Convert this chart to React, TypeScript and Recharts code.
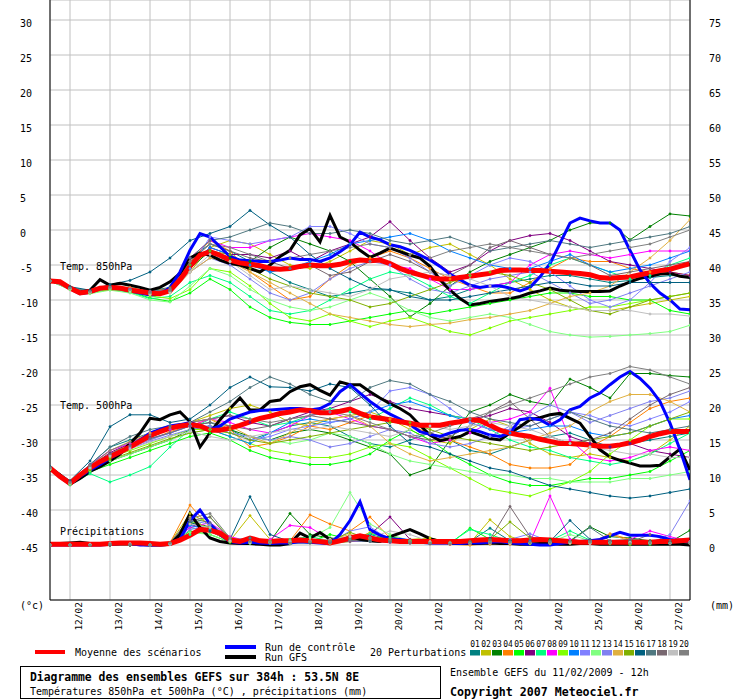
import React from "react";
import { LineChart, Line, XAxis, YAxis, CartesianGrid } from "recharts";

// ---- axes / labels ----
const dayTicks = [12, 36, 60, 84, 108, 132, 156, 180, 204, 228, 252, 276, 300, 324, 348, 372];
const dayLabels = ["12/02", "13/02", "14/02", "15/02", "16/02", "17/02", "18/02", "19/02", "20/02", "21/02", "22/02", "23/02", "24/02", "25/02", "26/02", "27/02"];
const tempTicks = [30, 25, 20, 15, 10, 5, 0, -5, -10, -15, -20, -25, -30, -35, -40, -45];
const precipTicks = [75, 70, 65, 60, 55, 50, 45, 40, 35, 30, 25, 20, 15, 10, 5, 0];
const perturbationNames = ["01", "02", "03", "04", "05", "06", "07", "08", "09", "10", "11", "12", "13", "14", "15", "16", "17", "18", "19", "20"];
const perturbationColors = ["#008080", "#c0c000", "#008000", "#ff8000", "#00ff00", "#800080", "#00ff80", "#ff00ff", "#80ff00", "#0080ff", "#8080ff", "#80ff80", "#8080f0", "#e0b040", "#80b000", "#006080", "#507880", "#786870", "#c0c0c0", "#808080"];

// ---- 6-hourly series (65 points, 0..384h) ----
const meanT850 = [-7.3,-7.4,-8.3,-9.0,-8.8,-8.3,-8.2,-8.3,-8.6,-8.8,-9.0,-9.1,-8.7,-7.1,-5.2,-3.6,-3.1,-3.6,-4.3,-4.7,-4.9,-5.1,-5.5,-5.6,-5.5,-5.2,-5.0,-5.1,-5.1,-4.9,-4.5,-4.3,-4.4,-4.3,-4.8,-5.5,-6.0,-6.4,-6.8,-7.0,-7.0,-6.8,-6.6,-6.4,-6.2,-5.8,-5.7,-5.7,-5.8,-5.8,-5.9,-6.0,-6.1,-6.2,-6.4,-6.8,-6.9,-6.8,-6.7,-6.4,-6.1,-5.8,-5.6,-5.2,-4.8];
const controlT850 = [-7.3,-7.5,-8.4,-9.1,-8.9,-8.4,-8.3,-8.4,-8.7,-9.0,-9.3,-9.2,-8.2,-6.0,-2.9,-0.5,-1.0,-2.4,-3.8,-4.3,-4.4,-4.5,-4.5,-4.3,-4.0,-4.2,-4.2,-4.5,-4.0,-3.1,-2.1,-0.3,-1.0,-1.4,-2.1,-2.4,-2.9,-3.6,-4.3,-5.2,-6.3,-7.1,-7.9,-8.2,-8.0,-8.0,-8.3,-8.7,-8.2,-6.7,-4.8,-1.9,1.0,1.7,1.3,1.0,1.0,0.0,-2.9,-5.7,-7.6,-9.0,-10.0,-11.3,-11.4];
const gfsT850 = [-7.3,-7.4,-8.2,-8.9,-8.6,-7.1,-7.9,-7.6,-7.9,-8.2,-8.6,-8.2,-7.4,-6.2,-4.0,-3.3,-3.6,-4.3,-4.8,-5.0,-5.5,-6.0,-5.0,-3.8,-2.9,-0.7,0.2,-1.7,2.1,-1.0,-1.7,-2.9,-3.9,-3.3,-2.6,-3.1,-3.6,-4.0,-5.2,-7.1,-8.6,-9.8,-10.7,-10.5,-10.2,-10.0,-9.8,-9.5,-9.0,-8.7,-8.3,-8.6,-8.7,-8.8,-8.8,-8.8,-8.7,-8.0,-7.4,-6.9,-6.6,-6.3,-6.2,-6.6,-6.8];
const meanT500 = [-34.0,-35.2,-36.2,-35.0,-34.0,-33.1,-32.4,-31.7,-31.0,-30.2,-29.4,-28.8,-28.3,-28.0,-27.8,-28.0,-28.6,-28.6,-28.3,-27.9,-27.4,-26.9,-26.6,-26.2,-26.0,-25.7,-25.8,-26.1,-26.1,-25.9,-25.6,-26.2,-26.7,-26.9,-27.1,-27.4,-27.6,-27.9,-27.9,-27.9,-27.6,-27.4,-27.1,-27.2,-27.9,-28.6,-29.0,-29.3,-29.5,-29.9,-30.2,-30.5,-30.5,-30.6,-30.7,-30.9,-30.9,-30.7,-30.4,-30.0,-29.5,-29.1,-28.8,-28.8,-28.8];
const controlT500 = [-34.0,-35.3,-36.3,-35.2,-34.3,-33.5,-32.6,-31.8,-31.0,-30.0,-29.0,-28.5,-28.0,-27.8,-27.5,-28.0,-28.5,-28.0,-27.0,-26.5,-26.0,-25.8,-25.7,-25.6,-25.5,-25.5,-25.7,-25.5,-24.8,-23.1,-22.1,-23.3,-24.5,-25.5,-26.3,-27.0,-27.8,-28.8,-29.2,-29.5,-29.0,-28.6,-28.5,-28.8,-29.3,-29.5,-29.0,-27.1,-26.9,-27.1,-27.9,-27.1,-25.7,-25.2,-24.0,-23.3,-22.1,-21.0,-20.2,-21.2,-22.6,-24.5,-27.6,-31.4,-35.7];
const gfsT500 = [-34.0,-35.0,-36.3,-35.5,-34.5,-33.8,-33.0,-32.0,-30.5,-29.0,-26.9,-27.1,-26.4,-26.0,-27.4,-31.0,-29.0,-27.1,-25.5,-24.0,-25.7,-25.7,-24.5,-24.3,-23.1,-22.4,-22.1,-22.9,-23.6,-21.7,-22.1,-22.1,-23.1,-24.0,-24.8,-25.5,-26.4,-27.9,-29.3,-30.1,-29.8,-29.5,-28.8,-29.3,-29.8,-30.0,-29.0,-28.1,-27.1,-26.8,-26.4,-26.2,-26.9,-27.6,-29.5,-31.4,-32.4,-32.9,-33.3,-33.7,-33.7,-33.6,-32.4,-31.3,-34.3];
const meanPrecip = [0.1,0.1,0.1,0.1,0.1,0.1,0.2,0.3,0.3,0.3,0.2,0.1,0.2,0.7,1.4,2.2,2.1,1.7,0.7,0.5,1.0,0.6,0.5,0.6,0.6,0.7,0.6,0.5,0.3,0.6,1.0,1.3,1.0,0.7,0.6,0.5,0.5,0.5,0.5,0.5,0.5,0.5,0.6,0.7,0.8,0.7,0.6,0.6,0.7,0.8,0.7,0.6,0.5,0.4,0.4,0.4,0.4,0.4,0.4,0.4,0.4,0.5,0.5,0.6,0.7];
const controlPrecip = [0,0,0,0,0,0,0.1,0.2,0.2,0,0,0,0.1,0.8,3.5,5.0,3.0,1.5,0.5,0.3,0.4,0.3,0.2,0.3,0.3,0.5,0.4,0.3,0.2,1.5,3.5,6.2,2.2,1.4,0.9,0.8,0.6,0.4,0.3,0.3,0.3,0.2,0.3,0.3,0.4,0.5,0.3,0.2,0.1,0.0,0.0,0.2,0.4,0.5,0.6,0.8,1.3,1.8,1.4,1.4,1.4,1.2,0.8,0.6,0.5];
const gfsPrecip = [0.1,0.2,0.3,0.4,0.2,0.1,0.1,0.2,0.2,0.1,0,0,0.1,1.5,4.5,2.5,1.0,0.5,0.3,0.2,0.2,0.1,0,0,0.2,1.7,1.0,1.8,0.8,0.5,1.2,0.8,0.6,0.5,1.2,1.7,2.2,1.6,0.9,0.5,0.3,0.2,0.2,0.2,0.3,0.2,0.2,0.1,0.1,0.2,0.2,0.1,0.1,0.2,0.2,0.1,0.1,0.1,0.1,0.1,0.1,0.1,0.1,0.1,0.0];

// ---- 12-hourly perturbations (33 points, 0..384h) ----
const perturbationT850 = [
  [-7.3,-8.2,-8.7,-8.0,-8.4,-8.7,-8.2,-4.0,-2.0,-3.0,-4.5,-6.0,-7.5,-8.5,-9.5,-9.0,-8.5,-8.6,-9.0,-10.0,-9.5,-8.5,-8.0,-7.5,-7.0,-6.5,-6.5,-7.0,-7.5,-7.2,-6.8,-6.5,-6.6],
  [-7.3,-8.4,-8.9,-8.3,-8.6,-9.2,-9.0,-6.0,-2.5,-1.5,-2.0,-3.5,-5.0,-5.5,-4.5,-3.0,-1.5,-2.0,-3.5,-2.5,-2.0,-3.5,-5.0,-7.0,-8.5,-10.0,-11.0,-11.5,-11.5,-11.0,-10.5,-10.0,-9.5],
  [-7.3,-8.3,-8.8,-8.2,-8.5,-9.0,-8.8,-5.5,-3.0,-4.0,-4.5,-2.5,-1.0,-2.0,-3.0,-4.5,-7.0,-9.5,-12.4,-10.5,-8.0,-6.0,-4.5,-3.5,-2.5,-1.5,0.0,1.0,1.0,-1.4,0.5,2.3,2.0],
  [-7.3,-8.2,-8.8,-8.1,-8.2,-8.8,-8.3,-4.5,-1.5,-3.0,-6.0,-8.0,-10.0,-9.5,-7.0,-5.0,-4.0,-3.0,-4.0,-5.5,-7.0,-8.0,-9.0,-9.0,-7.5,-5.5,-4.0,-4.5,-4.5,-5.5,-6.0,-6.0,-6.5],
  [-7.3,-8.4,-9.0,-8.4,-8.8,-9.7,-10.2,-9.0,-7.0,-8.5,-11.0,-12.5,-13.2,-13.5,-13.5,-13.0,-12.5,-12.0,-11.5,-12.0,-11.5,-11.0,-10.5,-10.0,-9.5,-9.0,-9.0,-9.5,-9.5,-10.0,-10.0,-11.5,-12.0],
  [-7.3,-8.3,-8.9,-8.3,-8.5,-8.9,-8.7,-5.0,-2.5,-3.5,-3.5,-4.0,-3.0,-4.5,-3.0,-2.0,-1.0,1.2,-1.5,-4.0,-6.0,-5.0,-3.0,-1.5,-0.8,-0.5,-1.5,-3.0,-4.5,-5.0,-5.5,-6.0,-6.5],
  [-7.3,-8.5,-9.0,-8.5,-8.9,-9.8,-9.5,-7.5,-6.5,-7.5,-9.5,-11.5,-12.0,-11.5,-10.0,-8.5,-7.0,-6.0,-6.5,-8.0,-9.5,-10.5,-9.0,-7.5,-6.5,-5.0,-4.0,-5.0,-6.0,-7.0,-6.5,-5.0,-4.0],
  [-7.3,-8.3,-8.8,-8.2,-8.4,-8.8,-8.5,-4.0,-1.5,-2.5,-2.5,-1.5,-1.0,-0.5,-1.0,-1.5,-3.0,-5.0,-5.5,-7.0,-8.5,-8.5,-8.0,-7.5,-5.0,-3.5,-3.0,-3.5,-4.0,-3.5,-3.0,-3.0,-3.0],
  [-7.3,-8.4,-9.0,-8.5,-8.7,-9.4,-9.8,-8.5,-5.5,-6.0,-8.0,-10.5,-12.5,-13.0,-12.0,-13.0,-13.8,-13.0,-12.5,-13.5,-14.5,-15.0,-14.0,-13.0,-12.5,-12.0,-11.5,-11.0,-11.0,-10.5,-10.0,-9.5,-9.0],
  [-7.3,-8.2,-8.8,-8.2,-8.5,-9.0,-8.8,-5.0,-2.5,-3.5,-5.0,-6.0,-5.5,-4.5,-3.5,-2.0,-1.5,-1.0,-0.5,-1.5,-3.0,-4.0,-5.0,-5.5,-5.5,-4.5,-3.5,-5.0,-6.0,-5.5,-5.0,-4.0,-3.0],
  [-7.3,-8.3,-8.9,-8.2,-8.6,-9.1,-8.8,-5.5,-1.0,-1.5,-2.0,-1.5,-1.0,0.5,0.5,-0.5,-2.0,-2.5,-4.0,-6.0,-8.0,-6.5,-5.0,-4.0,-4.5,-6.0,-8.0,-10.0,-11.0,-10.0,-7.5,-4.5,-2.5],
  [-7.3,-8.5,-9.1,-8.6,-9.0,-10.0,-10.3,-8.0,-5.5,-6.5,-8.5,-10.0,-11.0,-11.5,-11.0,-10.0,-9.0,-10.0,-11.5,-12.5,-13.0,-12.5,-12.0,-12.5,-13.5,-14.5,-15.0,-15.3,-15.2,-15.0,-14.8,-14.5,-13.6],
  [-7.3,-8.3,-8.8,-8.3,-8.5,-9.0,-8.7,-6.0,-4.0,-5.0,-7.0,-9.0,-10.0,-9.0,-7.0,-5.5,-4.5,-5.0,-7.0,-8.5,-9.0,-8.0,-7.0,-6.5,-6.0,-7.5,-9.0,-10.5,-10.0,-9.0,-8.0,-7.0,-6.0],
  [-7.3,-8.4,-8.9,-8.3,-8.6,-9.1,-8.9,-6.0,-4.0,-4.5,-6.0,-7.5,-9.0,-10.5,-12.0,-12.5,-13.0,-13.5,-13.8,-13.5,-13.3,-12.8,-12.5,-12.0,-11.5,-10.5,-9.5,-9.0,-8.0,-6.0,-4.0,-1.5,1.5],
  [-7.3,-8.3,-8.8,-8.2,-8.6,-9.0,-8.6,-5.0,-3.0,-3.5,-5.5,-7.0,-8.0,-9.0,-9.5,-10.0,-11.0,-10.5,-9.5,-8.5,-7.5,-6.5,-6.0,-6.5,-7.5,-8.5,-10.0,-11.5,-12.0,-11.0,-10.0,-9.5,-9.0],
  [-7.3,-8.1,-8.6,-7.8,-7.2,-6.0,-4.0,-1.5,-0.5,0.5,2.8,0.7,-1.0,-3.5,-5.5,-7.0,-8.3,-8.5,-9.5,-10.0,-10.0,-9.5,-9.0,-8.5,-8.0,-7.5,-7.5,-8.0,-8.0,-7.5,-7.5,-7.5,-7.5],
  [-7.3,-8.3,-8.8,-8.2,-8.5,-8.8,-8.4,-4.0,-1.5,-1.0,0.0,1.0,0.5,-0.5,-0.5,0.0,-0.5,-1.5,-2.0,-1.5,-1.0,-2.0,-3.0,-2.5,-2.0,-1.5,-2.0,-2.5,-2.0,-1.5,-1.0,-0.5,0.5],
  [-7.3,-8.3,-8.9,-8.3,-8.6,-9.0,-8.6,-4.5,-2.0,-3.0,-4.0,-4.5,-5.5,-5.0,-6.5,-6.0,-4.5,-3.5,-4.5,-6.0,-6.5,-5.0,-2.5,-1.5,-2.5,-3.5,-4.0,-5.0,-6.5,-6.0,-5.5,-5.0,-4.5],
  [-7.3,-8.4,-8.9,-8.3,-8.7,-9.2,-9.0,-6.0,-3.5,-4.5,-6.5,-8.5,-8.0,-8.5,-9.0,-9.5,-8.5,-7.0,-6.5,-6.0,-6.5,-7.0,-8.0,-9.5,-10.0,-10.5,-11.0,-11.5,-11.5,-11.5,-12.0,-12.0,-12.3],
  [-7.3,-8.3,-8.8,-8.2,-8.5,-8.9,-8.5,-4.5,-2.0,-2.5,-3.5,-4.5,-4.0,-3.5,-3.0,-2.5,-2.0,-2.5,-3.5,-4.0,-3.0,-2.5,-2.0,-2.5,-3.0,-3.5,-4.0,-3.5,-3.0,-2.5,-2.0,-1.0,0.0],
];
const perturbationT500 = [
  [-34.0,-36.0,-33.5,-31.0,-30.0,-29.0,-28.5,-28.0,-27.5,-28.5,-30.0,-29.0,-28.0,-27.5,-28.0,-29.5,-30.5,-31.0,-30.0,-29.0,-30.0,-31.5,-32.0,-31.0,-30.0,-29.5,-29.0,-30.0,-31.0,-30.5,-30.0,-29.5,-29.0],
  [-34.2,-36.3,-34.0,-32.0,-30.5,-29.5,-28.5,-27.5,-26.5,-25.5,-25.0,-26.0,-27.5,-28.0,-27.0,-26.5,-26.0,-27.0,-28.5,-30.0,-30.5,-28.5,-27.0,-28.0,-30.5,-32.0,-32.5,-32.0,-32.5,-33.0,-32.0,-30.0,-28.0],
  [-34.0,-36.2,-34.5,-33.0,-32.0,-31.0,-30.0,-28.5,-28.0,-28.5,-29.5,-30.0,-29.0,-28.5,-29.0,-30.0,-31.0,-32.0,-35.0,-34.0,-30.0,-26.0,-25.0,-23.5,-24.5,-25.0,-21.3,-22.5,-24.0,-20.5,-20.5,-20.8,-21.0],
  [-34.0,-36.0,-33.8,-32.0,-31.0,-30.0,-28.8,-28.0,-27.0,-28.5,-31.0,-30.5,-29.5,-28.0,-28.5,-27.5,-26.5,-27.0,-28.0,-29.0,-30.0,-31.0,-32.0,-33.5,-34.0,-34.0,-33.5,-31.0,-29.5,-27.5,-25.5,-24.5,-24.0],
  [-34.1,-36.3,-34.5,-33.5,-32.5,-31.5,-30.5,-29.5,-29.0,-30.0,-31.5,-32.5,-33.0,-33.5,-33.5,-33.0,-32.0,-30.0,-28.5,-30.0,-32.0,-33.5,-35.0,-36.0,-36.5,-36.5,-36.0,-35.5,-35.5,-35.0,-34.5,-33.0,-31.5],
  [-34.0,-36.1,-33.8,-31.8,-30.5,-29.5,-28.5,-27.5,-27.0,-26.5,-27.5,-28.0,-27.0,-26.0,-25.5,-24.5,-23.5,-24.5,-25.5,-26.0,-26.5,-27.0,-26.5,-25.5,-26.0,-27.5,-29.5,-30.5,-31.0,-30.5,-31.5,-32.0,-32.5],
  [-34.2,-36.4,-34.8,-36.0,-35.0,-33.8,-31.0,-28.5,-27.0,-26.0,-27.0,-28.0,-27.5,-26.5,-25.5,-26.0,-27.0,-25.5,-24.0,-25.0,-26.5,-27.0,-28.5,-30.0,-31.0,-31.5,-32.5,-33.0,-33.5,-33.0,-32.0,-30.5,-29.0],
  [-34.0,-36.0,-33.5,-31.5,-30.5,-29.0,-28.5,-28.0,-27.0,-27.5,-28.5,-29.0,-28.0,-26.5,-26.0,-27.0,-28.0,-28.5,-29.5,-30.5,-30.0,-29.0,-27.5,-27.0,-26.0,-22.6,-30.0,-32.5,-33.0,-32.5,-31.5,-31.0,-31.5],
  [-34.1,-36.2,-34.2,-32.5,-31.5,-30.5,-29.5,-28.5,-28.5,-29.5,-30.5,-31.5,-32.0,-32.5,-32.5,-32.0,-31.0,-30.5,-31.0,-32.5,-34.0,-35.5,-37.0,-37.5,-38.0,-37.0,-36.0,-34.5,-32.0,-30.0,-28.0,-27.0,-27.0],
  [-34.0,-36.1,-34.0,-32.0,-30.8,-29.8,-29.0,-28.0,-28.5,-29.5,-30.5,-29.0,-27.5,-27.0,-27.5,-27.0,-26.0,-25.0,-24.5,-25.5,-26.5,-27.5,-28.5,-29.0,-28.5,-28.0,-28.0,-29.0,-29.5,-29.0,-28.0,-27.0,-26.5],
  [-34.0,-36.2,-34.0,-32.2,-31.0,-30.0,-29.0,-28.0,-28.0,-29.0,-30.0,-29.5,-28.5,-28.0,-27.5,-27.0,-26.0,-23.0,-22.5,-23.5,-25.5,-27.5,-28.5,-28.5,-28.0,-27.0,-26.0,-26.5,-27.5,-28.0,-27.0,-26.0,-24.5],
  [-34.2,-36.3,-34.4,-33.0,-32.0,-31.0,-30.0,-29.0,-28.5,-29.0,-29.5,-30.0,-30.5,-30.0,-29.0,-29.5,-30.5,-32.0,-33.0,-33.5,-34.0,-34.5,-35.0,-35.0,-35.5,-35.5,-36.0,-36.0,-36.0,-35.5,-35.5,-35.0,-34.5],
  [-34.0,-36.1,-34.0,-32.3,-31.2,-30.2,-29.3,-28.5,-28.0,-29.0,-29.5,-30.0,-29.5,-30.0,-31.0,-30.5,-29.5,-28.5,-29.0,-30.5,-31.0,-30.5,-29.5,-28.0,-26.5,-25.0,-26.0,-27.5,-26.5,-25.5,-24.5,-24.0,-23.0],
  [-34.1,-36.2,-33.8,-31.5,-30.2,-29.0,-28.0,-27.5,-27.0,-28.0,-29.5,-30.5,-29.0,-27.5,-27.0,-26.5,-28.0,-30.5,-32.0,-33.0,-32.5,-32.0,-31.5,-31.0,-30.0,-29.0,-28.0,-26.0,-24.5,-23.5,-23.5,-24.5,-26.0],
  [-34.0,-36.2,-34.3,-32.8,-31.8,-30.8,-29.8,-29.0,-28.5,-29.0,-30.0,-30.5,-30.0,-29.5,-29.0,-28.5,-28.0,-27.5,-27.5,-28.5,-29.5,-30.0,-30.5,-31.0,-31.5,-31.0,-30.5,-30.0,-29.5,-29.0,-28.0,-27.0,-26.0],
  [-33.8,-35.8,-33.0,-28.1,-26.4,-26.4,-27.5,-27.0,-25.0,-22.5,-21.0,-22.4,-22.5,-23.0,-22.0,-22.5,-25.0,-28.0,-30.5,-31.0,-32.0,-33.0,-34.0,-34.5,-35.5,-36.5,-37.0,-37.5,-38.0,-38.3,-38.0,-37.5,-37.0],
  [-34.0,-36.0,-33.5,-31.0,-29.5,-28.5,-28.0,-27.5,-26.0,-24.5,-22.5,-21.0,-22.0,-23.5,-24.5,-24.5,-22.5,-21.5,-22.0,-23.5,-24.5,-26.0,-27.0,-27.5,-28.0,-27.0,-26.0,-27.0,-28.0,-28.5,-29.0,-28.5,-28.0],
  [-34.0,-36.1,-33.9,-32.0,-30.8,-29.8,-29.0,-28.0,-27.5,-28.0,-28.5,-28.0,-27.0,-26.5,-27.0,-27.5,-28.0,-28.5,-29.5,-30.0,-29.5,-28.0,-26.0,-24.5,-27.0,-29.5,-30.5,-30.0,-29.0,-27.0,-25.0,-23.5,-22.5],
  [-34.1,-36.2,-34.0,-32.3,-31.3,-30.3,-29.5,-28.8,-29.5,-30.0,-29.5,-29.0,-28.5,-28.5,-28.0,-28.5,-29.0,-29.5,-28.5,-28.0,-28.5,-28.0,-27.5,-28.0,-28.5,-29.5,-30.5,-31.0,-31.5,-32.0,-32.0,-32.5,-32.5],
  [-34.0,-36.1,-33.6,-31.5,-30.3,-29.3,-28.3,-27.5,-27.0,-26.5,-27.0,-27.5,-27.0,-26.5,-26.0,-26.5,-27.5,-28.5,-29.5,-29.0,-28.0,-27.0,-26.0,-25.0,-24.0,-23.0,-22.0,-21.0,-20.5,-19.5,-20.0,-21.0,-22.0],
];
const perturbationPrecip = [
  [0,0,0,0.1,0,0,0.2,2.5,2.0,0.5,1.0,0.3,0.2,0.3,0.5,0.8,1.5,0.8,0.4,0.3,0.2,0.5,2.4,0.6,0.4,0.5,0.8,0.4,0.3,0.5,0.3,0.4,0.3],
  [0,0,0,0,0,0,0.3,4.5,3.0,0.6,4.2,0.8,0.5,0.3,0.2,0.5,1.8,0.6,0.8,1.0,0.4,0.3,3.6,1.2,0.4,0.3,0.2,0.3,0.2,0.1,0.2,0.3,0.5],
  [0,0,0,0,0,0,0.2,3.5,2.5,0.4,0.3,0.5,4.5,1.5,1.0,0.8,0.5,0.8,0.6,0.3,0.2,0.5,0.8,0.6,0.4,0.8,0.6,2.6,1.2,1.0,0.6,0.4,2.1],
  [0,0,0,0,0,0,0.3,5.7,2.5,0.5,0.3,0.4,0.6,4.3,3.0,2.0,4.0,1.0,0.5,0.2,0.1,0.0,0.2,0.1,0.3,0.2,0.4,0.3,1.6,0.8,0.5,0.3,0.3],
  [0,0,0,0,0,0,0.1,2.0,1.5,0.4,0.2,0.3,0.2,0.5,1.5,0.8,1.0,1.2,0.6,0.4,0.2,2.4,0.8,0.3,0.2,0.3,0.5,0.4,0.2,0.1,0.1,0.2,0.3],
  [0,0,0,0,0,0,0.2,3.0,2.0,0.5,0.3,0.4,0.3,0.5,0.8,1.0,1.5,4.0,0.8,0.2,0.1,0.1,0.2,0.3,0.2,0.4,0.3,0.2,0.3,0.2,0.3,0.2,0.2],
  [0,0,0,0,0,0,0.1,1.5,2.5,0.8,0.4,0.6,0.8,1.2,0.6,0.5,1.6,1.0,0.4,0.2,0.3,2.2,1.5,0.5,0.3,0.6,2.0,0.7,0.5,0.4,0.3,0.3,0.3],
  [0,0,0,0,0,0,0.2,2.5,3.2,1.2,0.5,0.8,2.8,2.5,0.8,0.5,0.6,0.4,0.3,0.2,0.1,0.2,0.3,0.5,0.4,7.0,0.8,0.4,0.3,0.8,2.0,1.2,0.5],
  [0,0,0,0,0,0,0.1,3.0,4.0,1.0,0.5,0.3,0.2,0.4,0.6,1.0,0.8,0.5,0.3,0.2,0.2,0.3,0.4,0.3,0.2,0.2,0.3,0.4,0.3,0.2,0.2,0.3,0.4],
  [0,0,0,0,0,0,0.2,2.8,2.2,0.5,0.3,0.4,0.5,0.4,0.5,1.2,1.0,0.6,0.4,0.3,0.2,0.3,0.5,0.4,0.6,0.4,0.3,0.5,0.4,0.3,0.2,0.2,0.3],
  [0,0,0,0,0,0,0.1,3.5,3.0,0.6,0.3,0.5,0.4,0.5,0.3,2.0,2.6,0.7,0.4,0.3,0.2,0.4,0.6,0.8,1.6,0.5,0.4,0.3,0.5,0.4,0.3,0.3,0.4],
  [0,0,0,0,0,0,0.1,1.8,1.5,0.5,0.4,0.3,0.5,1.0,2.5,7.5,3.0,1.5,0.6,0.3,0.2,0.3,0.5,0.4,0.3,0.4,1.5,0.6,0.4,0.3,0.3,0.3,0.4],
  [0,0,0,0,0,0,0.1,2.2,2.8,0.7,0.4,0.3,0.2,0.3,0.4,0.6,0.5,0.4,0.3,0.2,0.3,0.4,0.3,0.5,0.4,0.3,0.4,0.5,0.6,0.4,0.3,1.5,6.3],
  [0,0,0,0,0,0,0.2,4.0,2.0,0.5,0.3,0.4,0.6,0.5,0.8,1.5,0.6,0.5,0.3,0.2,0.1,0.0,0.1,0.2,0.3,0.2,0.3,0.2,1.5,0.6,0.4,0.3,0.2],
  [0,0,0,0,0,0,0.2,3.2,2.5,0.6,0.4,0.5,0.3,0.4,0.6,1.8,0.8,0.6,0.4,0.3,0.2,0.5,0.8,3.3,1.0,0.5,0.4,0.3,0.5,0.4,0.3,0.2,0.3],
  [0,0,0,0,0,0,0.3,3.3,2.0,0.8,6.9,1.5,0.5,0.3,0.4,0.8,0.6,0.5,0.3,0.2,0.3,0.4,1.0,0.6,0.4,0.5,3.5,0.8,0.5,0.6,0.5,0.4,0.3],
  [0,0,0,0,0,0,0.2,3.8,3.2,0.7,1.0,0.4,0.3,0.5,0.4,0.6,0.5,0.4,0.3,0.3,0.2,0.3,0.4,0.5,0.4,0.3,0.5,2.5,0.6,0.8,0.5,0.3,0.3],
  [0,0,0,0,0,0,0.2,3.5,4.0,0.8,0.4,0.3,0.5,0.4,0.3,0.5,1.0,0.6,0.3,0.2,0.3,0.5,0.8,5.5,1.2,0.5,0.4,0.6,0.5,0.4,1.5,0.6,0.4],
  [0,0,0.1,0.3,0.2,0,0.2,3.0,2.5,0.6,0.3,0.4,0.5,0.6,0.8,1.2,1.0,2.0,1.5,0.5,0.3,0.2,0.3,0.2,0.3,0.4,0.3,0.2,0.3,0.4,0.3,0.2,0.3],
  [0,0,0,0.2,0.1,0,0.3,3.8,4.5,1.0,0.5,0.4,0.3,0.5,0.6,0.8,1.0,0.8,0.5,0.3,0.2,0.2,0.3,0.4,0.3,0.4,0.5,0.4,0.3,0.2,0.3,0.2,0.2],
];

const toRows = (vals: number[], step: number) => vals.map((v, i) => ({ h: i * step, v }));

const FONT = "'DejaVu Sans Mono', monospace";
const TEMP_TOP = 230 / 7;
const TEMP_BOTTOM = -370 / 7;

const LeftTick = (props: any) => (
  <text x={20} y={props.y + 6.5} fontFamily={FONT} fontSize={10} fill="#000" textAnchor="start">
    {props.payload.value}
  </text>
);
const RightTick = (props: any) => (
  <text x={709} y={props.y + 6.5} fontFamily={FONT} fontSize={10} fill="#000" textAnchor="start">
    {props.payload.value}
  </text>
);
const DateTick = (props: any) => {
  const idx = dayTicks.indexOf(props.payload.value);
  return (
    <text
      transform={`translate(${props.x + 11.5},602) rotate(-90)`}
      fontFamily={FONT}
      fontSize={9.5}
      fill="#000"
      textAnchor="end"
    >
      {dayLabels[idx]}
    </text>
  );
};

export default function App() {
  const pertLines: any[] = [];
  const groups: [number[][], string | undefined][] = [
    [perturbationT850, undefined],
    [perturbationT500, undefined],
    [perturbationPrecip, "p"],
  ];
  groups.forEach(([set, axis], g) => {
    set.forEach((vals, k) => {
      const c = perturbationColors[k];
      pertLines.push(
        <Line
          key={`p${g}-${k}`}
          data={toRows(vals, 12)}
          dataKey="v"
          yAxisId={axis ?? 0}
          type="linear"
          stroke={c}
          strokeWidth={1}
          dot={{ r: 1.2, fill: c, stroke: c, strokeWidth: 0.4 }}
          activeDot={false}
          isAnimationActive={false}
        />
      );
    });
  });
  const main: [number[], string, number, string | number][] = [
    [gfsT850, "#000000", 3, 0],
    [gfsT500, "#000000", 3, 0],
    [gfsPrecip, "#000000", 3, "p"],
    [controlT850, "#0000ff", 3, 0],
    [controlT500, "#0000ff", 3, 0],
    [controlPrecip, "#0000ff", 3, "p"],
    [meanT850, "#ff0000", 5, 0],
    [meanT500, "#ff0000", 5, 0],
    [meanPrecip, "#ff0000", 5, "p"],
  ];

  return (
    <div style={{ position: "absolute", left: 0, top: 0, width: 740, height: 700, background: "#fff" }}>
      <LineChart width={740} height={700} margin={{ top: 0, right: 0, bottom: 0, left: 0 }}>
        <CartesianGrid stroke="#c0c0c0" strokeWidth={1} />
        <XAxis
          dataKey="h"
          type="number"
          domain={[0, 384]}
          ticks={dayTicks}
          interval={0}
          height={100}
          axisLine={{ stroke: "#000", strokeWidth: 1 }}
          tickLine={false}
          tick={<DateTick />}
          allowDataOverflow
        />
        <YAxis
          type="number"
          domain={[TEMP_BOTTOM, TEMP_TOP]}
          ticks={tempTicks}
          interval={0}
          width={50}
          axisLine={{ stroke: "#000", strokeWidth: 1 }}
          tickLine={false}
          tick={<LeftTick />}
          allowDataOverflow
        />
        <YAxis
          yAxisId="p"
          orientation="right"
          type="number"
          domain={[TEMP_BOTTOM + 45, TEMP_TOP + 45]}
          ticks={precipTicks}
          interval={0}
          width={50}
          axisLine={{ stroke: "#000", strokeWidth: 1 }}
          tickLine={false}
          tick={<RightTick />}
          allowDataOverflow
        />
        {pertLines}
        {main.map(([vals, color, w, axis], i) => (
          <Line
            key={`m${i}`}
            data={toRows(vals, 6)}
            dataKey="v"
            yAxisId={axis}
            type="linear"
            stroke={color}
            strokeWidth={w}
            dot={false}
            activeDot={false}
            isAnimationActive={false}
          />
        ))}
      </LineChart>
      <svg
        width={740}
        height={700}
        style={{ position: "absolute", left: 0, top: 0, pointerEvents: "none" }}
        fontFamily={FONT}
      >
        <text x={60} y={270} fontSize={10} fill="#000">Temp. 850hPa</text>
        <text x={60} y={409} fontSize={10} fill="#000">Temp. 500hPa</text>
        <text x={60} y={534.5} fontSize={10} fill="#000">Précipitations</text>
        <text x={20} y={609} fontSize={10} fill="#000">(°c)</text>
        <text x={710} y={609} fontSize={10} fill="#000">(mm)</text>

        <line x1={35} x2={65} y1={652} y2={652} stroke="#ff0000" strokeWidth={4} />
        <text x={75} y={655.5} fontSize={10} fill="#000">Moyenne des scénarios</text>
        <line x1={225} x2={256} y1={647} y2={647} stroke="#0000ff" strokeWidth={4} />
        <line x1={225} x2={256} y1={657} y2={657} stroke="#000000" strokeWidth={4} />
        <text x={265} y={650.5} fontSize={10} fill="#000">Run de contrôle</text>
        <text x={265} y={660.5} fontSize={10} fill="#000">Run GFS</text>
        <text x={370} y={655.5} fontSize={10} fill="#000">20 Perturbations</text>
        {perturbationNames.map((n, i) => (
          <g key={n}>
            <text x={475 + i * 11} y={646.5} fontSize={8} fill="#000" textAnchor="middle">{n}</text>
            <rect x={470 + i * 11} y={650} width={10} height={5.5} fill={perturbationColors[i]} />
          </g>
        ))}

        <rect x={20.5} y={666.5} width={420} height={32} fill="none" stroke="#000" strokeWidth={1} />
        <text x={30} y={681} fontSize={11.4} fontWeight="bold" fill="#000">Diagramme des ensembles GEFS sur 384h : 53.5N 8E</text>
        <text x={30} y={695} fontSize={10} fill="#000">Températures 850hPa et 500hPa (°C) , précipitations (mm)</text>
        <text x={450} y={676} fontSize={10} fill="#000">Ensemble GEFS du 11/02/2009 - 12h</text>
        <text x={450} y={695.5} fontSize={11.6} fontWeight="bold" fill="#000">Copyright 2007 Meteociel.fr</text>
      </svg>
    </div>
  );
}
